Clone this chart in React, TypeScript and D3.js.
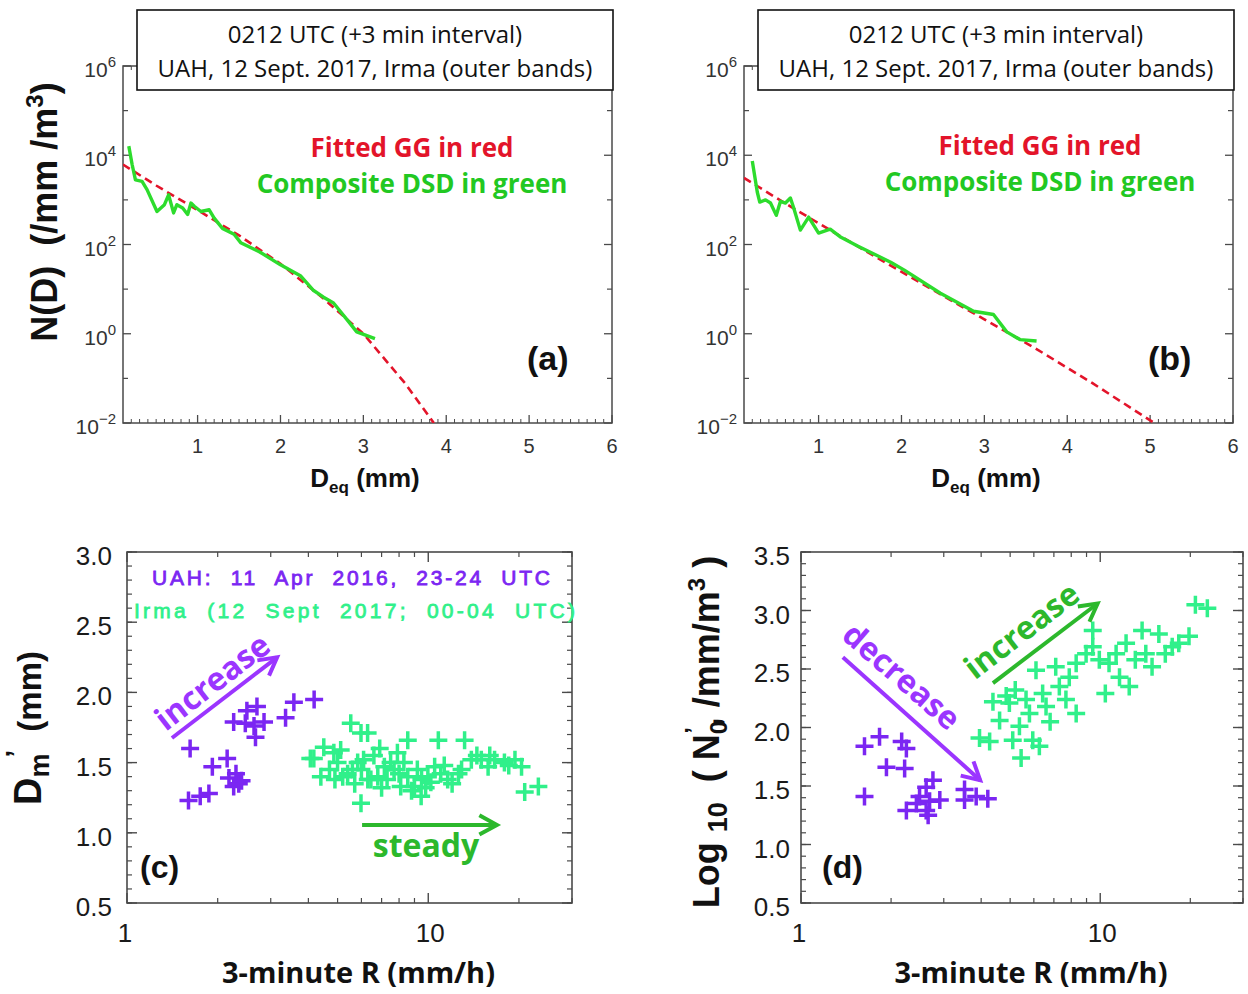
import React from "react";
import * as d3 from "d3";

// ---------------- data ----------------
// (a) composite DSD (green) and fitted generalized gamma (red), N(D) in /mm/m^3
const aGreenD = [0.17, 0.21, 0.25, 0.33, 0.39, 0.51, 0.6, 0.65, 0.71, 0.75, 0.82, 0.88, 0.92, 0.96, 1.04, 1.14, 1.2, 1.3, 1.44, 1.52, 1.75, 2.0, 2.24, 2.4, 2.52, 2.64, 2.8, 2.92, 3.14];
const aGreenN = [1.6e4, 6.2e3, 2.8e3, 2.6e3, 1.7e3, 550, 780, 1.3e3, 510, 780, 660, 470, 850, 720, 550, 600, 390, 230, 170, 110, 68, 35, 20, 9.3, 6.6, 4.9, 2.1, 1.1, 0.78];
const aRedD = [0.1, 0.5, 1.0, 1.5, 2.0, 2.5, 3.0, 3.5, 3.85];
const aRedN = [6.2e3, 2.1e3, 590, 160, 37, 6.6, 1.0, 0.079, 0.01];
// (b)
const bGreenD = [0.2, 0.26, 0.29, 0.36, 0.42, 0.49, 0.54, 0.6, 0.66, 0.7, 0.78, 0.88, 1.0, 1.14, 1.27, 1.47, 1.87, 2.03, 2.47, 2.87, 3.11, 3.27, 3.43, 3.63];
const bGreenN = [7.4e3, 1.5e3, 890, 1.0e3, 850, 450, 930, 850, 1.1e3, 660, 210, 410, 180, 220, 145, 93, 40, 27, 8.1, 3.2, 2.7, 1.1, 0.74, 0.69];
const bRedD = [0.1, 0.6, 1.2, 1.8, 2.4, 3.0, 3.6, 4.3, 5.05];
const bRedN = [3.1e3, 830, 180, 40, 9.1, 2.1, 0.49, 0.079, 0.01];

// (c) Dm' vs 3-minute R
const cUahR = [1.62, 1.6, 1.75, 1.87, 1.92, 2.15, 2.18, 2.26, 2.35, 2.3, 2.4, 2.26, 2.47, 2.5, 2.64, 2.67, 2.7, 2.85, 3.36, 3.58, 4.18];
const cUahDm = [1.6, 1.23, 1.26, 1.28, 1.47, 1.53, 1.39, 1.33, 1.35, 1.42, 1.37, 1.79, 1.78, 1.87, 1.76, 1.68, 1.9, 1.79, 1.82, 1.93, 1.95];
const cIrmaR = [4.06, 4.17, 4.4, 4.5, 4.7, 4.86, 4.9, 5.0, 5.12, 5.2, 5.4, 5.53, 5.6, 5.7, 5.83, 5.98, 5.98, 6.0, 6.1, 6.29, 6.3, 6.45, 6.6, 6.8, 6.9, 7.0, 7.15, 7.3, 7.5, 7.7, 7.9, 8.0, 8.1, 8.3, 8.55, 8.55, 8.8, 9.0, 9.2, 9.47, 9.5, 9.8, 9.97, 10.2, 10.5, 10.8, 11.0, 11.3, 11.6, 12.0, 12.6, 12.9, 13.2, 13.9, 14.5, 15.0, 15.8, 16.0, 16.6, 17.9, 18.5, 19.4, 20.4, 20.9, 23.2];
const cIrmaDm = [1.53, 1.53, 1.4, 1.61, 1.45, 1.57, 1.38, 1.5, 1.59, 1.4, 1.42, 1.78, 1.45, 1.35, 1.5, 1.71, 1.21, 1.45, 1.52, 1.71, 1.38, 1.38, 1.55, 1.4, 1.6, 1.32, 1.47, 1.38, 1.5, 1.45, 1.57, 1.42, 1.33, 1.5, 1.66, 1.4, 1.3, 1.33, 1.45, 1.26, 1.38, 1.32, 1.4, 1.36, 1.47, 1.66, 1.42, 1.48, 1.38, 1.35, 1.42, 1.45, 1.66, 1.52, 1.55, 1.52, 1.47, 1.55, 1.52, 1.5, 1.48, 1.52, 1.47, 1.29, 1.33];

// (d) log10 N0' vs 3-minute R
const dUahR = [1.63, 1.83, 1.93, 1.63, 2.17, 2.25, 2.22, 2.25, 2.49, 2.62, 2.76, 2.62, 2.69, 2.91, 2.66, 2.43, 3.52, 3.52, 3.85, 4.21];
const dUahN0 = [1.84, 1.92, 1.66, 1.41, 1.88, 1.82, 1.65, 1.29, 1.41, 1.49, 1.55, 1.29, 1.37, 1.38, 1.25, 1.35, 1.47, 1.38, 1.41, 1.39];
const dIrmaR = [3.95, 4.27, 4.38, 4.61, 4.85, 4.97, 5.1, 5.2, 5.37, 5.44, 5.65, 5.8, 5.95, 6.1, 6.26, 6.42, 6.59, 6.8, 7.1, 7.3, 7.68, 7.88, 8.31, 8.31, 8.97, 9.44, 9.44, 9.93, 10.4, 10.7, 11.3, 11.6, 12.2, 12.5, 13.1, 13.8, 14.2, 14.9, 15.7, 16.5, 17.4, 18.3, 19.8, 20.8, 22.8];
const dIrmaN0 = [1.91, 1.88, 2.22, 2.06, 2.27, 2.21, 1.89, 2.32, 2.01, 1.74, 2.24, 2.12, 1.89, 2.49, 1.84, 2.29, 2.18, 2.05, 2.52, 2.35, 2.24, 2.43, 2.12, 2.55, 2.63, 2.83, 2.69, 2.58, 2.29, 2.55, 2.63, 2.43, 2.72, 2.35, 2.58, 2.83, 2.63, 2.52, 2.8, 2.63, 2.69, 2.72, 2.78, 3.05, 3.02];

// tick values / labels
const dsdXTicks = [1, 2, 3, 4, 5, 6];
const dsdYTicks = [1e-2, 1, 1e2, 1e4, 1e6];
const dsdYExp = ["\u22122", "0", "2", "4", "6"];
const dsdYMinor = [1e-1, 1e1, 1e3, 1e5];
const rTicks = [1, 10];
const rTickLabels = ["1", "10"];
const rMinor = [2, 3, 4, 5, 6, 7, 8, 9, 20, 30];
const dmTicks = [0.5, 1.0, 1.5, 2.0, 2.5, 3.0];
const n0Ticks = [0.5, 1.0, 1.5, 2.0, 2.5, 3.0, 3.5];

// ---------------- styles ----------------
const CAL = "'Open Sans', 'DejaVu Sans', sans-serif";
const ARI = "'Liberation Sans', Arial, sans-serif";
const AX = "#4a4a4a";
const RED = "#e3142a";
const LGREEN = "#2ddc2d";
const PURPLE = "#7b26f2";
const MINT = "#30f08a";
const ANN_PURPLE = "#9b35ff";
const ANN_GREEN = "#2cb82c";

type Pt = [number, number];

function Arrow({ x1, y1, x2, y2, color, w = 4, head = 20 }: any) {
  const a = Math.atan2(y2 - y1, x2 - x1);
  const h1 = [x2 - head * Math.cos(a - 0.5), y2 - head * Math.sin(a - 0.5)];
  const h2 = [x2 - head * Math.cos(a + 0.5), y2 - head * Math.sin(a + 0.5)];
  return (
    <g stroke={color} strokeWidth={w} fill="none" strokeLinecap="butt">
      <line x1={x1} y1={y1} x2={x2} y2={y2} />
      <polyline points={`${h1[0]},${h1[1]} ${x2},${y2} ${h2[0]},${h2[1]}`} strokeLinejoin="miter" />
    </g>
  );
}

function DsdPanel({ id, left, greenD, greenN, redD, redN, label, textCx, fitY, compY }: any) {
  const top = 66, bottom = 423, right = left + 489;
  const x = d3.scaleLinear().domain([0.1, 6]).range([left, right]);
  const y = d3.scaleLog().domain([1e-2, 1e6]).range([bottom, top]);
  const line = d3.line<Pt>().x((d) => x(d[0])).y((d) => y(d[1]));
  const green: Pt[] = greenD.map((d: number, i: number) => [d, greenN[i]]);
  const red: Pt[] = redD.map((d: number, i: number) => [d, redN[i]]);
  const xMinor = d3.range(2, 60).map((v) => v / 10).filter((v) => Math.abs(v - Math.round(v)) > 1e-6);
  return (
    <g>
      <defs>
        <clipPath id={id}>
          <rect x={left} y={top} width={right - left} height={bottom - top} />
        </clipPath>
      </defs>
      <rect x={left} y={top} width={right - left} height={bottom - top} fill="none" stroke={AX} strokeWidth={1.5} />
      {dsdXTicks.map((t) => (
        <g key={"xt" + t}>
          <line x1={x(t)} x2={x(t)} y1={bottom} y2={bottom - 8} stroke={AX} strokeWidth={1.3} />
          <line x1={x(t)} x2={x(t)} y1={top} y2={top + 8} stroke={AX} strokeWidth={1.3} />
          <text x={x(t)} y={453} textAnchor="middle" fontFamily={ARI} fontSize={20} fill="#333">{t}</text>
        </g>
      ))}
      {xMinor.map((t) => (
        <g key={"xm" + t}>
          <line x1={x(t)} x2={x(t)} y1={bottom} y2={bottom - 4} stroke={AX} strokeWidth={1} />
          <line x1={x(t)} x2={x(t)} y1={top} y2={top + 4} stroke={AX} strokeWidth={1} />
        </g>
      ))}
      {dsdYTicks.map((t, i) => (
        <g key={"yt" + t}>
          <line x1={left} x2={left + 8} y1={y(t)} y2={y(t)} stroke={AX} strokeWidth={1.3} />
          <line x1={right} x2={right - 8} y1={y(t)} y2={y(t)} stroke={AX} strokeWidth={1.3} />
          <text x={left - 7} y={y(t) + 11} textAnchor="end" fontFamily={ARI} fontSize={21} fill="#333">
            10<tspan fontSize={15} dy={-10}>{dsdYExp[i]}</tspan>
          </text>
        </g>
      ))}
      {dsdYMinor.map((t) => (
        <g key={"ym" + t}>
          <line x1={left} x2={left + 5} y1={y(t)} y2={y(t)} stroke={AX} strokeWidth={1.2} />
          <line x1={right} x2={right - 5} y1={y(t)} y2={y(t)} stroke={AX} strokeWidth={1.2} />
        </g>
      ))}
      <g clipPath={`url(#${id})`}>
        <path d={line(red) || ""} fill="none" stroke={RED} strokeWidth={2.6} strokeDasharray="8 5" />
        <path d={line(green) || ""} fill="none" stroke={LGREEN} strokeWidth={3.4} strokeLinejoin="round" />
      </g>
      {/* title box */}
      <rect x={left + 14} y={10} width={476} height={80} fill="#fff" stroke="#111" strokeWidth={1.6} />
      <text x={left + 252} y={43} textAnchor="middle" fontFamily={CAL} fontSize={24} fill="#111">0212 UTC (+3 min interval)</text>
      <text x={left + 252} y={77} textAnchor="middle" fontFamily={CAL} fontSize={24} fill="#111">UAH, 12 Sept. 2017, Irma (outer bands)</text>
      <text x={textCx} y={fitY} textAnchor="middle" fontFamily={CAL} fontWeight="bold" fontSize={26} fill={RED}>Fitted GG in red</text>
      <text x={textCx} y={compY} textAnchor="middle" fontFamily={CAL} fontWeight="bold" fontSize={26} fill="#22c822">Composite DSD in green</text>
      <text x={right - 85} y={370} fontFamily={ARI} fontWeight="bold" fontSize={34} fill="#111">{label}</text>
      <text x={left + 242} y={487} textAnchor="middle" fontFamily={ARI} fontWeight="bold" fontSize={26} fill="#111">
        D<tspan fontSize={17} dy={6}>eq</tspan><tspan dy={-6}> (mm)</tspan>
      </text>
    </g>
  );
}

function ScatterFrame({ left, right, y, yTicks, labelGap, x }: any) {
  const top = 552, bottom = 903;
  const [y0, y1] = y.domain();
  const yMinor = d3.range(Math.round(y0 * 10), Math.round(y1 * 10) + 1).map((v) => v / 10);
  return (
    <g>
      <rect x={left} y={top} width={right - left} height={bottom - top} fill="none" stroke={AX} strokeWidth={1.6} />
      {yMinor.map((t) => (
        <g key={"m" + t}>
          <line x1={left} x2={left + 5} y1={y(t)} y2={y(t)} stroke={AX} strokeWidth={1.2} />
          <line x1={right} x2={right - 5} y1={y(t)} y2={y(t)} stroke={AX} strokeWidth={1.2} />
        </g>
      ))}
      {yTicks.map((t: number) => (
        <g key={"t" + t}>
          <line x1={left} x2={left + 10} y1={y(t)} y2={y(t)} stroke={AX} strokeWidth={1.4} />
          <line x1={right} x2={right - 10} y1={y(t)} y2={y(t)} stroke={AX} strokeWidth={1.4} />
          <text x={left - labelGap} y={y(t) + 13} textAnchor="end" fontFamily={ARI} fontSize={26} fill="#1a1a1a">{t.toFixed(1)}</text>
        </g>
      ))}
      {rMinor.map((t) => (
        <g key={"xm" + t}>
          <line x1={x(t)} x2={x(t)} y1={bottom} y2={bottom - 5} stroke={AX} strokeWidth={1.2} />
          <line x1={x(t)} x2={x(t)} y1={top} y2={top + 5} stroke={AX} strokeWidth={1.2} />
        </g>
      ))}
      {rTicks.map((t, i) => (
        <g key={"xt" + t}>
          <line x1={x(t)} x2={x(t)} y1={bottom} y2={bottom - 10} stroke={AX} strokeWidth={1.4} />
          <line x1={x(t)} x2={x(t)} y1={top} y2={top + 10} stroke={AX} strokeWidth={1.4} />
          <text x={x(t) - (i === 0 ? 2 : -2)} y={942} textAnchor="middle" fontFamily={ARI} fontSize={26} fill="#1a1a1a">{rTickLabels[i]}</text>
        </g>
      ))}
      <text x={(left + right) / 2 + 9} y={983} textAnchor="middle" fontFamily={CAL} fontWeight="bold" fontSize={29} fill="#111">3-minute R (mm/h)</text>
    </g>
  );
}

function Crosses({ xs, ys, x, y, color }: any) {
  return (
    <g stroke={color} strokeWidth={3.5} fill="none">
      {xs.map((r: number, i: number) => (
        <path key={i} d={`M${x(r) - 9},${y(ys[i])}h18M${x(r)},${y(ys[i]) - 9}v18`} />
      ))}
    </g>
  );
}

function PanelC() {
  const left = 127, right = 572;
  const x = d3.scaleLog().domain([1, 30]).range([left, right]);
  const y = d3.scaleLinear().domain([0.5, 3.0]).range([903, 552]);
  const incA = [x(1.41), y(1.675), x(3.15), y(2.25)];
  const stA = [x(6.03), y(1.056), x(16.9), y(1.056)];
  return (
    <g>
      <ScatterFrame left={left} right={right} x={x} y={y} yTicks={dmTicks} labelGap={15} />
      <Crosses xs={cUahR} ys={cUahDm} x={x} y={y} color={PURPLE} />
      <Crosses xs={cIrmaR} ys={cIrmaDm} x={x} y={y} color={MINT} />
      <text x={152} y={585} fontFamily={ARI} fontSize={21} fill={PURPLE} stroke={PURPLE} strokeWidth={0.8} textLength={398} lengthAdjust="spacing" style={{ whiteSpace: "pre" }}>UAH:  11  Apr  2016,  23-24  UTC</text>
      <text x={134} y={618} fontFamily={ARI} fontSize={21} fill={MINT} stroke={MINT} strokeWidth={0.8} textLength={441} lengthAdjust="spacing" style={{ whiteSpace: "pre" }}>Irma  (12  Sept  2017;  00-04  UTC)</text>
      <Arrow x1={incA[0]} y1={incA[1]} x2={incA[2]} y2={incA[3]} color={ANN_PURPLE} w={4} />
      <text transform={`translate(${x(1.945)},${y(2.06)}) rotate(-37.6)`} textAnchor="middle" dominantBaseline="middle" fontFamily={CAL} fontWeight="bold" fontSize={32} fill={ANN_PURPLE}>increase</text>
      <Arrow x1={stA[0]} y1={stA[1]} x2={stA[2]} y2={stA[3]} color={ANN_GREEN} w={4} />
      <text x={x(9.83)} y={y(0.83)} textAnchor="middle" fontFamily={CAL} fontWeight="bold" fontSize={32} fill={ANN_GREEN}>steady</text>
      <text x={140} y={878} fontFamily={ARI} fontWeight="bold" fontSize={32} fill="#111">(c)</text>
      <text transform="translate(41,728) rotate(-90)" textAnchor="middle" fontFamily={ARI} fontWeight="bold" fontSize={33} fill="#111" style={{ whiteSpace: "pre" }}>
        <tspan fontSize={38}>D</tspan>
        <tspan fontSize={27} dy={8}>m</tspan>
        <tspan fontSize={27} dx={-4} dy={-24}>{"\u2019"}</tspan>
        <tspan dy={16}>  (mm)</tspan>
      </text>
    </g>
  );
}

function PanelD() {
  const left = 801, right = 1243;
  const x = d3.scaleLog().domain([1, 30]).range([left, right]);
  const y = d3.scaleLinear().domain([0.5, 3.5]).range([903, 552]);
  const decA = [x(1.38), y(2.6), x(3.97), y(1.55)];
  const incA = [x(4.38), y(2.38), x(9.8), y(3.06)];
  return (
    <g>
      <ScatterFrame left={left} right={right} x={x} y={y} yTicks={n0Ticks} labelGap={11} />
      <Crosses xs={dUahR} ys={dUahN0} x={x} y={y} color={PURPLE} />
      <Crosses xs={dIrmaR} ys={dIrmaN0} x={x} y={y} color={MINT} />
      <Arrow x1={decA[0]} y1={decA[1]} x2={decA[2]} y2={decA[3]} color={ANN_PURPLE} w={4} />
      <text transform={`translate(${x(2.14)},${y(2.42)}) rotate(41)`} textAnchor="middle" dominantBaseline="middle" fontFamily={CAL} fontWeight="bold" fontSize={32} fill={ANN_PURPLE}>decrease</text>
      <Arrow x1={incA[0]} y1={incA[1]} x2={incA[2]} y2={incA[3]} color={ANN_GREEN} w={4} />
      <text transform={`translate(${x(5.53)},${y(2.81)}) rotate(-37.5)`} textAnchor="middle" dominantBaseline="middle" fontFamily={CAL} fontWeight="bold" fontSize={32} fill={ANN_GREEN}>increase</text>
      <text x={822} y={878} fontFamily={ARI} fontWeight="bold" fontSize={32} fill="#111">(d)</text>
      <text transform="translate(719,732) rotate(-90)" textAnchor="middle" fontFamily={ARI} fontWeight="bold" fontSize={36} fill="#111" style={{ whiteSpace: "pre" }}>
        <tspan>Log </tspan>
        <tspan fontSize={27} dy={8}>10</tspan>
        <tspan dy={-8}>  ( N</tspan>
        <tspan fontSize={24} dy={8}>0</tspan>
        <tspan fontSize={24} dx={-13} dy={-25}>{"\u2019"}</tspan>
        <tspan dy={17}>, /mm/m</tspan>
        <tspan fontSize={24} dy={-14}>3</tspan>
        <tspan dy={14}> )</tspan>
      </text>
    </g>
  );
}

export default function App() {
  return (
    <svg width={1248} height={994} viewBox="0 0 1248 994" style={{ position: "absolute", left: 0, top: 0, background: "#fff" }}>
      <rect x={0} y={0} width={1248} height={994} fill="#fff" />
      <DsdPanel id="clipA" left={123} greenD={aGreenD} greenN={aGreenN} redD={aRedD} redN={aRedN} label="(a)" textCx={412} fitY={157} compY={193} />
      <DsdPanel id="clipB" left={744} greenD={bGreenD} greenN={bGreenN} redD={bRedD} redN={bRedN} label="(b)" textCx={1040} fitY={155} compY={191} />
      <text transform="translate(57,212) rotate(-90)" textAnchor="middle" fontFamily={ARI} fontWeight="bold" fontSize={36} fill="#111" style={{ whiteSpace: "pre" }}>
        N(D)  (/mm /m<tspan fontSize={24} dy={-14}>3</tspan><tspan dy={14}>)</tspan>
      </text>
      <PanelC />
      <PanelD />
    </svg>
  );
}
